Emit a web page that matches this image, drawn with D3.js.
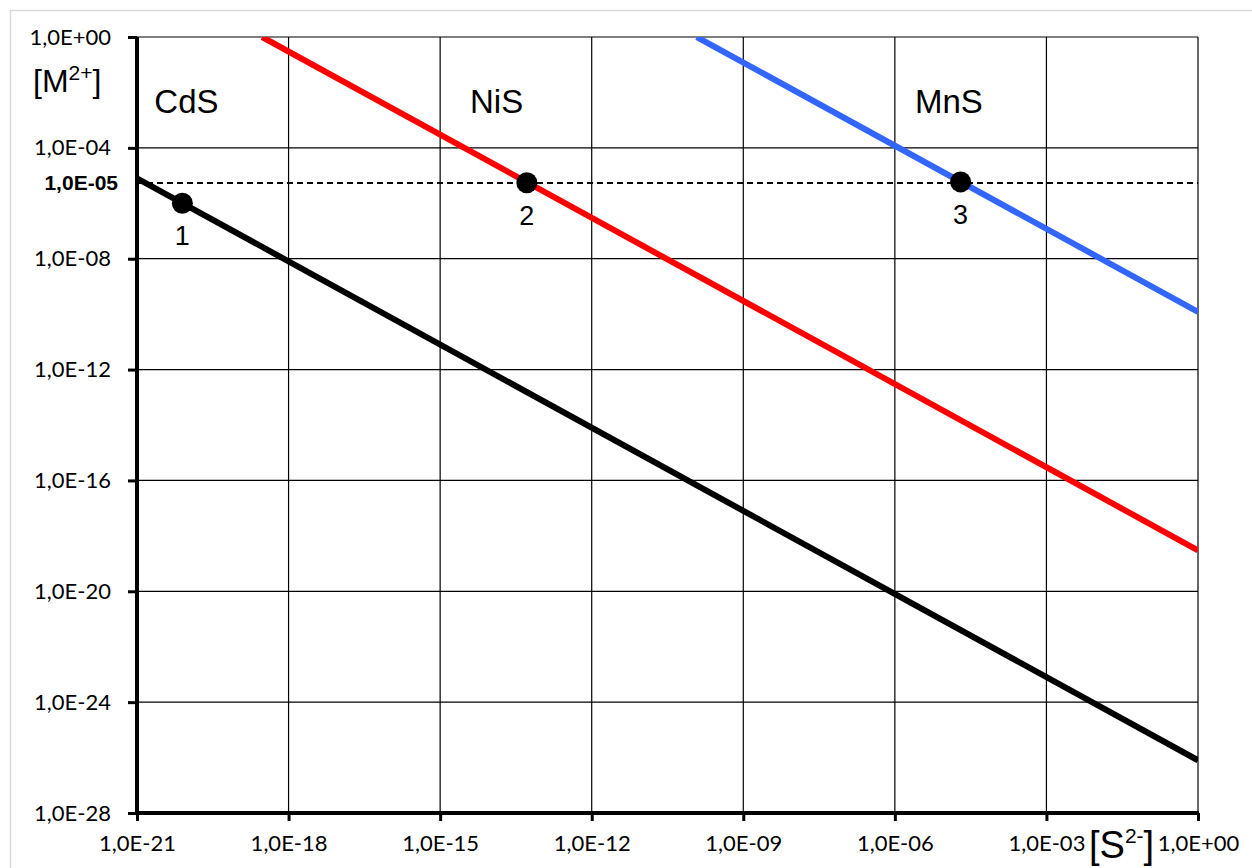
<!DOCTYPE html>
<html>
<head>
<meta charset="utf-8">
<script src="https://cdn.jsdelivr.net/npm/d3@7"></script>
<style>
    body { margin: 0; background: #fff; }
    .tick-label { font-family: Lato, "Open Sans", sans-serif; font-size: 22px; fill: #000; }
</style>
</head>
<body>
<div id="chart"></div>
<script>
// 1: DATA
const xTicks = [1e-21, 1e-18, 1e-15, 1e-12, 1e-9, 1e-6, 1e-3, 1e0];
const xTickLabels = ["1,0E-21", "1,0E-18", "1,0E-15", "1,0E-12", "1,0E-09", "1,0E-06", "1,0E-03", "1,0E+00"];
const yTicks = [1e0, 1e-4, 1e-8, 1e-12, 1e-16, 1e-20, 1e-24, 1e-28];
const yTickLabels = ["1,0E+00", "1,0E-04", "1,0E-08", "1,0E-12", "1,0E-16", "1,0E-20", "1,0E-24", "1,0E-28"];

// each sulfide line: two end points [S2-], [M2+]
const cdsLine = [{ x: 1e-21, y: 8e-6 }, { x: 1e0, y: 8e-27 }];
const nisLine = [{ x: 3e-19, y: 1e0 }, { x: 1e0, y: 3e-19 }];
const mnsLine = [{ x: 1.2e-10, y: 1e0 }, { x: 1e0, y: 1.2e-10 }];
const seriesNames = ["CdS", "NiS", "MnS"];
const seriesColors = ["#000000", "#ff0000", "#3366ff"];
const nameX = [2.2e-21, 3.9e-15, 2.5e-6];

// marked points 1, 2, 3
const pointX = [7.9e-21, 5.2e-14, 2e-5];
const pointY = [1e-6, 5.5e-6, 5.9e-6];
const pointLabels = ["1", "2", "3"];

// dashed level (labelled 1,0E-05)
const dashLevel = 5.4e-6;
const dashLabel = "1,0E-05";

// 2: SVG
const W = 1252, H = 868;
const margin = { top: 37, right: 54, bottom: 55, left: 137 };
const width = W - margin.left - margin.right;
const height = H - margin.top - margin.bottom;

const svgRoot = d3.select("#chart")
    .append("svg")
    .attr("width", W)
    .attr("height", H);

// chart area border (light grey, only top/left visible)
svgRoot.append("path")
    .attr("d", `M10.5,${H} V10.5 H${W}`)
    .attr("fill", "none")
    .attr("stroke", "#d9d9d9")
    .attr("stroke-width", 1.5);

const svg = svgRoot.append("g")
    .attr("transform", `translate(${margin.left},${margin.top})`);

// 3: SCALES
const x = d3.scaleLog().domain([1e-21, 1e0]).range([0, width]);
const y = d3.scaleLog().domain([1e-28, 1e0]).range([height, 0]);

// 4: GRID
svg.selectAll(".vgrid")
    .data(xTicks)
    .enter()
    .append("line")
    .attr("x1", d => x(d)).attr("x2", d => x(d))
    .attr("y1", 0).attr("y2", height)
    .attr("stroke", "#000").attr("stroke-width", 1.2);

svg.selectAll(".hgrid")
    .data(yTicks)
    .enter()
    .append("line")
    .attr("x1", 0).attr("x2", width)
    .attr("y1", d => y(d)).attr("y2", d => y(d))
    .attr("stroke", "#000").attr("stroke-width", 1.2);

// dashed line
svg.append("line")
    .attr("x1", 0).attr("x2", width)
    .attr("y1", y(dashLevel)).attr("y2", y(dashLevel))
    .attr("stroke", "#000")
    .attr("stroke-width", 1.3)
    .attr("shape-rendering", "crispEdges")
    .attr("stroke-dasharray", "6,4");

// 5: LINES
svg.append("clipPath").attr("id", "plotClip")
    .append("rect").attr("width", width).attr("height", height);

const line = d3.line()
    .x(d => x(d.x))
    .y(d => y(d.y));

[cdsLine, nisLine, mnsLine].forEach((pts, i) => {
    svg.append("path")
        .datum(pts)
        .attr("d", line)
        .attr("clip-path", "url(#plotClip)")
        .attr("fill", "none")
        .attr("stroke", seriesColors[i])
        .attr("stroke-width", 6);
});

// 6: AXES
const yAxis = svg.append("g")
    .call(d3.axisLeft(y).tickValues(yTicks).tickFormat((d, i) => yTickLabels[i]).tickSize(9).tickPadding(17));
const xAxis = svg.append("g")
    .attr("transform", `translate(0,${height})`)
    .call(d3.axisBottom(x).tickValues(xTicks).tickFormat((d, i) => xTickLabels[i]).tickSize(8).tickPadding(14));

[yAxis, xAxis].forEach(ax => {
    ax.select(".domain").remove();
    ax.selectAll(".tick line").attr("stroke", "#000").attr("stroke-width", 3);
    ax.selectAll(".tick text").attr("class", "tick-label").attr("fill", "#000");
});

// thick axis lines
svg.append("line")
    .attr("x1", 0).attr("x2", 0).attr("y1", 0).attr("y2", height)
    .attr("stroke", "#000").attr("stroke-width", 4);
svg.append("line")
    .attr("x1", -1).attr("x2", width + 1).attr("y1", height).attr("y2", height)
    .attr("stroke", "#000").attr("stroke-width", 4);

// bold 1,0E-05 label
svg.append("text")
    .attr("x", -19)
    .attr("y", y(dashLevel))
    .attr("dy", "0.35em")
    .attr("text-anchor", "end")
    .style("font-family", "Liberation Sans, Arial, sans-serif")
    .style("font-weight", "bold")
    .style("font-size", "21px")
    .text(dashLabel);

// 7: POINTS
svg.selectAll(".pt")
    .data(pointX)
    .enter()
    .append("circle")
    .attr("cx", d => x(d))
    .attr("cy", (d, i) => y(pointY[i]))
    .attr("r", 10.5)
    .attr("fill", "#000");

svg.selectAll(".pt-label")
    .data(pointX)
    .enter()
    .append("text")
    .attr("x", d => x(d))
    .attr("y", (d, i) => y(pointY[i]) + 42)
    .attr("text-anchor", "middle")
    .style("font-family", "Liberation Sans, Arial, sans-serif")
    .style("font-size", "27px")
    .text((d, i) => pointLabels[i]);

// 8: SERIES NAMES
svg.selectAll(".name")
    .data(seriesNames)
    .enter()
    .append("text")
    .attr("x", (d, i) => x(nameX[i]))
    .attr("y", 76)
    .style("font-family", "Liberation Sans, Arial, sans-serif")
    .style("font-size", "33px")
    .text(d => d);

// 9: AXIS LABELS
const yLab = svgRoot.append("text")
    .attr("x", 33)
    .attr("y", 92)
    .style("font-family", "Liberation Sans, Arial, sans-serif")
    .style("font-size", "32px");
yLab.append("tspan").text("[M");
yLab.append("tspan").attr("dy", -12).style("font-size", "21px").text("2+");
yLab.append("tspan").attr("dy", 12).text("]");

const xLab = svgRoot.append("text")
    .attr("x", 1089)
    .attr("y", 858)
    .style("font-family", "Liberation Sans, Arial, sans-serif")
    .style("font-size", "38px");
xLab.append("tspan").text("[S");
xLab.append("tspan").attr("dy", -15).style("font-size", "21px").text("2-");
xLab.append("tspan").attr("dy", 15).text("]");
</script>
</body>
</html>
